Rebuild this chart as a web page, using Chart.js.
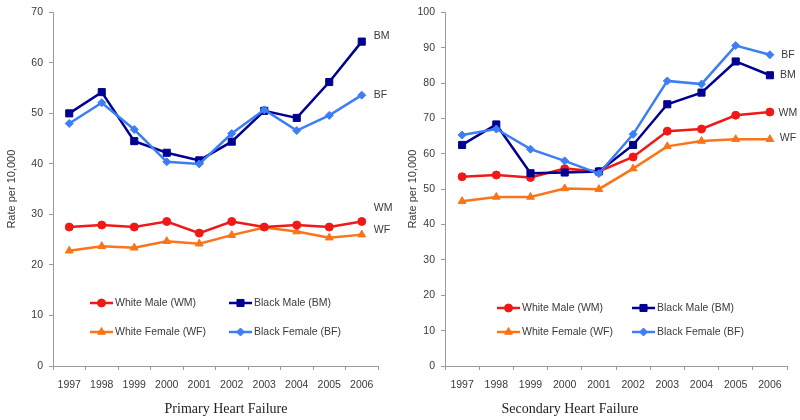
<!DOCTYPE html>
<html>
<head>
<meta charset="utf-8">
<script src="https://cdn.jsdelivr.net/npm/chart.js@4.4.0/dist/chart.umd.min.js"></script>
<style>
	html, body { margin: 0; padding: 0; background: #fff; }
	.box { position: absolute; top: 0; width: 400px; height: 420px; }
</style>
</head>
<body>
<div class="box" style="left:0"><canvas id="primary" width="400" height="420"></canvas></div>
<div class="box" style="left:400px"><canvas id="secondary" width="400" height="420"></canvas></div>
<script>
// data ...................................................
const years = ['1997', '1998', '1999', '2000', '2001', '2002', '2003', '2004', '2005', '2006'];

const primaryWM = [27.5, 27.9, 27.5, 28.6, 26.3, 28.6, 27.5, 27.9, 27.5, 28.6];
const primaryWF = [22.8, 23.7, 23.4, 24.7, 24.2, 25.9, 27.4, 26.6, 25.4, 26.0];
const primaryBM = [50.0, 54.2, 44.5, 42.2, 40.7, 44.4, 50.5, 49.1, 56.2, 64.2];
const primaryBF = [48.0, 52.1, 46.8, 40.4, 40.0, 46.0, 50.7, 46.6, 49.6, 53.6];

const secondaryWM = [53.5, 54.0, 53.3, 55.8, 55.0, 59.1, 66.4, 67.0, 70.9, 71.8];
const secondaryWF = [46.6, 47.8, 47.8, 50.2, 50.0, 55.8, 62.1, 63.6, 64.1, 64.1];
const secondaryBM = [62.5, 68.3, 54.5, 54.7, 55.0, 62.5, 74.0, 77.3, 86.1, 82.2];
const secondaryBF = [65.3, 67.0, 61.3, 58.0, 54.4, 65.5, 80.6, 79.7, 90.6, 88.0];

// where the short end labels sit, in axis units (order WM, BM, WF, BF)
const primaryLabelAt = [31.3, 65.2, 26.8, 53.7];
const secondaryLabelAt = [71.6, 82.3, 64.3, 87.9];

const legendOrder = ['WM', 'BM', 'WF', 'BF'];
const drawOrder = ['BF', 'BM', 'WM', 'WF']; // first one ends up on top

const series = {
	WM: { name: 'White Male (WM)',    color: '#F21818', style: 'circle',   radius: 4 },
	BM: { name: 'Black Male (BM)',    color: '#000090', style: 'rect',     radius: 5 },
	WF: { name: 'White Female (WF)',  color: '#FA7418', style: 'triangle', radius: 4.5 },
	BF: { name: 'Black Female (BF)',  color: '#3D7EF5', style: 'rectRot',  radius: 4 }
};

const textColor = '#3a3a3a';
const axisColor = '#9a9a9a';
const sans = '"Liberation Sans", Arial, sans-serif';

// legend, end labels and the bottom caption
const decor = {
	id: 'decor',
	afterDatasetsDraw(chart, args, o)
	{
		const ctx = chart.ctx;
		const xs = chart.scales.x, ys = chart.scales.y;
		ctx.save();
		ctx.font = '10.5px ' + sans;
		ctx.textBaseline = 'middle';

		// BM / BF / WM / WF next to the last point
		const lastX = xs.getPixelForValue(years.length - 1);
		ctx.fillStyle = textColor;
		ctx.textAlign = o.endAlign;
		legendOrder.forEach((k, i) => ctx.fillText(k, lastX + o.endShift, ys.getPixelForValue(o.endAt[i])));

		// 2 x 2 legend inside the plot
		legendOrder.forEach((k, i) =>
		{
			const s = series[k];
			const lx = o.legendX[i % 2], ly = o.legendY[Math.floor(i / 2)];
			ctx.strokeStyle = s.color;
			ctx.fillStyle = s.color;
			ctx.lineWidth = 2.5;
			ctx.beginPath();
			ctx.moveTo(lx, ly);
			ctx.lineTo(lx + 23, ly);
			ctx.stroke();
			ctx.lineWidth = 1;
			Chart.helpers.drawPoint(ctx, { pointStyle: s.style, radius: s.radius, borderWidth: 1 }, lx + 11.5, ly);
			ctx.fillStyle = textColor;
			ctx.textAlign = 'left';
			ctx.fillText(s.name, lx + 25, ly);
		});

		ctx.font = '14px "Liberation Serif", "Times New Roman", serif';
		ctx.textAlign = 'center';
		ctx.fillStyle = '#222';
		ctx.fillText(o.title, o.titleX, o.titleY);
		ctx.restore();
	}
};

function makeChart(id, values, yMax, yWidth, rightPad, yTitlePad, deco)
{
	const datasets = drawOrder.map(k => ({
		label: series[k].name,
		data: values[k],
		borderColor: series[k].color,
		backgroundColor: series[k].color,
		borderWidth: 2.5,
		pointStyle: series[k].style,
		pointRadius: series[k].radius,
		pointBorderWidth: 1,
		tension: 0
	}));

	return new Chart(document.getElementById(id), {
		type: 'line',
		data: { labels: years, datasets: datasets },
		plugins: [decor],
		options: {
			responsive: false,
			animation: false,
			layout: { padding: { top: 10, right: rightPad, left: 0, bottom: 0 } },
			plugins: {
				legend: { display: false },
				tooltip: { enabled: false },
				decor: deco
			},
			scales: {
				x: {
					offset: true,
					grid: { offset: true, drawOnChartArea: false, tickLength: 4, tickColor: axisColor },
					border: { color: axisColor, width: 1 },
					ticks: { color: textColor, font: { family: sans, size: 10.5 }, padding: 9, maxRotation: 0 },
					afterFit: s => { s.height = 54; }
				},
				y: {
					min: 0,
					max: yMax,
					ticks: { stepSize: 10, color: textColor, font: { family: sans, size: 10.5 }, padding: 6 },
					grid: { drawOnChartArea: false, tickLength: 4, tickColor: axisColor },
					border: { color: axisColor, width: 1 },
					title: {
						display: true,
						text: 'Rate per 10,000',
						color: textColor,
						font: { family: sans, size: 11 },
						padding: { top: yTitlePad, bottom: 0 }
					},
					afterFit: s => { s.width = yWidth; }
				}
			}
		}
	});
}

makeChart('primary',
	{ WM: primaryWM, WF: primaryWF, BM: primaryBM, BF: primaryBF },
	70, 53, 22, 5.4,
	{
		title: 'Primary Heart Failure', titleX: 226, titleY: 409,
		endAt: primaryLabelAt, endAlign: 'left', endShift: 12,
		legendX: [90, 229], legendY: [303, 332]
	});

makeChart('secondary',
	{ WM: secondaryWM, WF: secondaryWF, BM: secondaryBM, BF: secondaryBF },
	100, 45, 13, 6.4,
	{
		title: 'Secondary Heart Failure', titleX: 170, titleY: 409,
		endAt: secondaryLabelAt, endAlign: 'center', endShift: 18,
		legendX: [97, 232], legendY: [308, 332]
	});
</script>
</body>
</html>
